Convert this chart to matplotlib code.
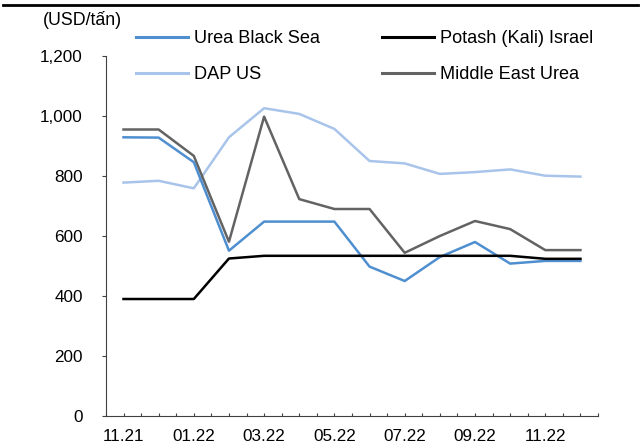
import numpy as np
import matplotlib.pyplot as plt
from matplotlib.lines import Line2D

plt.rcParams['font.family'] = ['Liberation Sans', 'DejaVu Sans']

# data (USD/tan), 11.21 -> 12.22
months = ['11.21', '12.21', '01.22', '02.22', '03.22', '04.22', '05.22',
          '06.22', '07.22', '08.22', '09.22', '10.22', '11.22', '12.22']
urea_black_sea = [929, 928, 846, 551, 648, 648, 648, 498, 450, 530, 580, 508, 517, 517]
potash_israel = [390, 390, 390, 525, 534, 534, 534, 534, 534, 534, 534, 534, 524, 524]
dap_us = [778, 784, 759, 929, 1026, 1007, 957, 850, 842, 807, 813, 822, 801, 798]
me_urea = [955, 955, 867, 581, 998, 723, 690, 690, 544, 600, 650, 623, 553, 553]

x = np.arange(len(months))

fig = plt.figure(figsize=(6.42, 4.48), dpi=100)
ax = fig.add_axes([0.165, 0.0714, 0.7665, 0.8036])

lw = 1.8
l1, = ax.plot(x, dap_us, color='#A9C4EB', lw=lw, label='DAP US')
l2, = ax.plot(x, me_urea, color='#636363', lw=lw, label='Middle East Urea')
l3, = ax.plot(x, urea_black_sea, color='#4F8FD0', lw=lw, label='Urea Black Sea')
l4, = ax.plot(x, potash_israel, color='#000000', lw=lw, label='Potash (Kali) Israel')

ax.set_xlim(-0.5, len(months) - 0.5)
ax.set_ylim(0, 1200)
ax.set_yticks(np.arange(0, 1201, 200))
ax.set_yticklabels(['{:,}'.format(v) for v in range(0, 1201, 200)])

ax.set_xticks(x)
ax.set_xticklabels([m if i % 2 == 0 else '' for i, m in enumerate(months)])
ax.set_xticks(np.arange(-0.5, len(months)), minor=True)

for s in ['top', 'right']:
    ax.spines[s].set_visible(False)
for s in ['left', 'bottom']:
    ax.spines[s].set_color('#404040')
    ax.spines[s].set_linewidth(0.8)

ax.tick_params(axis='x', which='both', direction='in', length=2.5, width=0.8,
               color='#404040', pad=9.5, labelsize=12.3)
ax.tick_params(axis='y', direction='out', length=3, width=0.8,
               color='#404040', pad=13.6, labelsize=12.3)

leg = ax.legend(handles=[l3, l1, l4, l2], ncol=2, frameon=False,
                loc='upper left', bbox_to_anchor=(0.212, 0.9325),
                bbox_transform=fig.transFigure, fontsize=13.1,
                handlelength=2.85, handletextpad=0.33, labelspacing=1.05,
                columnspacing=3.4, borderpad=0, borderaxespad=0)
for h in leg.legend_handles:
    h.set_linewidth(2.2)

fig.text(0.067, 0.955, '(USD/tấn)', fontsize=12.8, va='center', ha='left')

fig.add_artist(Line2D([0.005, 0.993], [0.988, 0.988], transform=fig.transFigure,
                      color='black', lw=2))

fig.savefig('out.png', dpi=100)
